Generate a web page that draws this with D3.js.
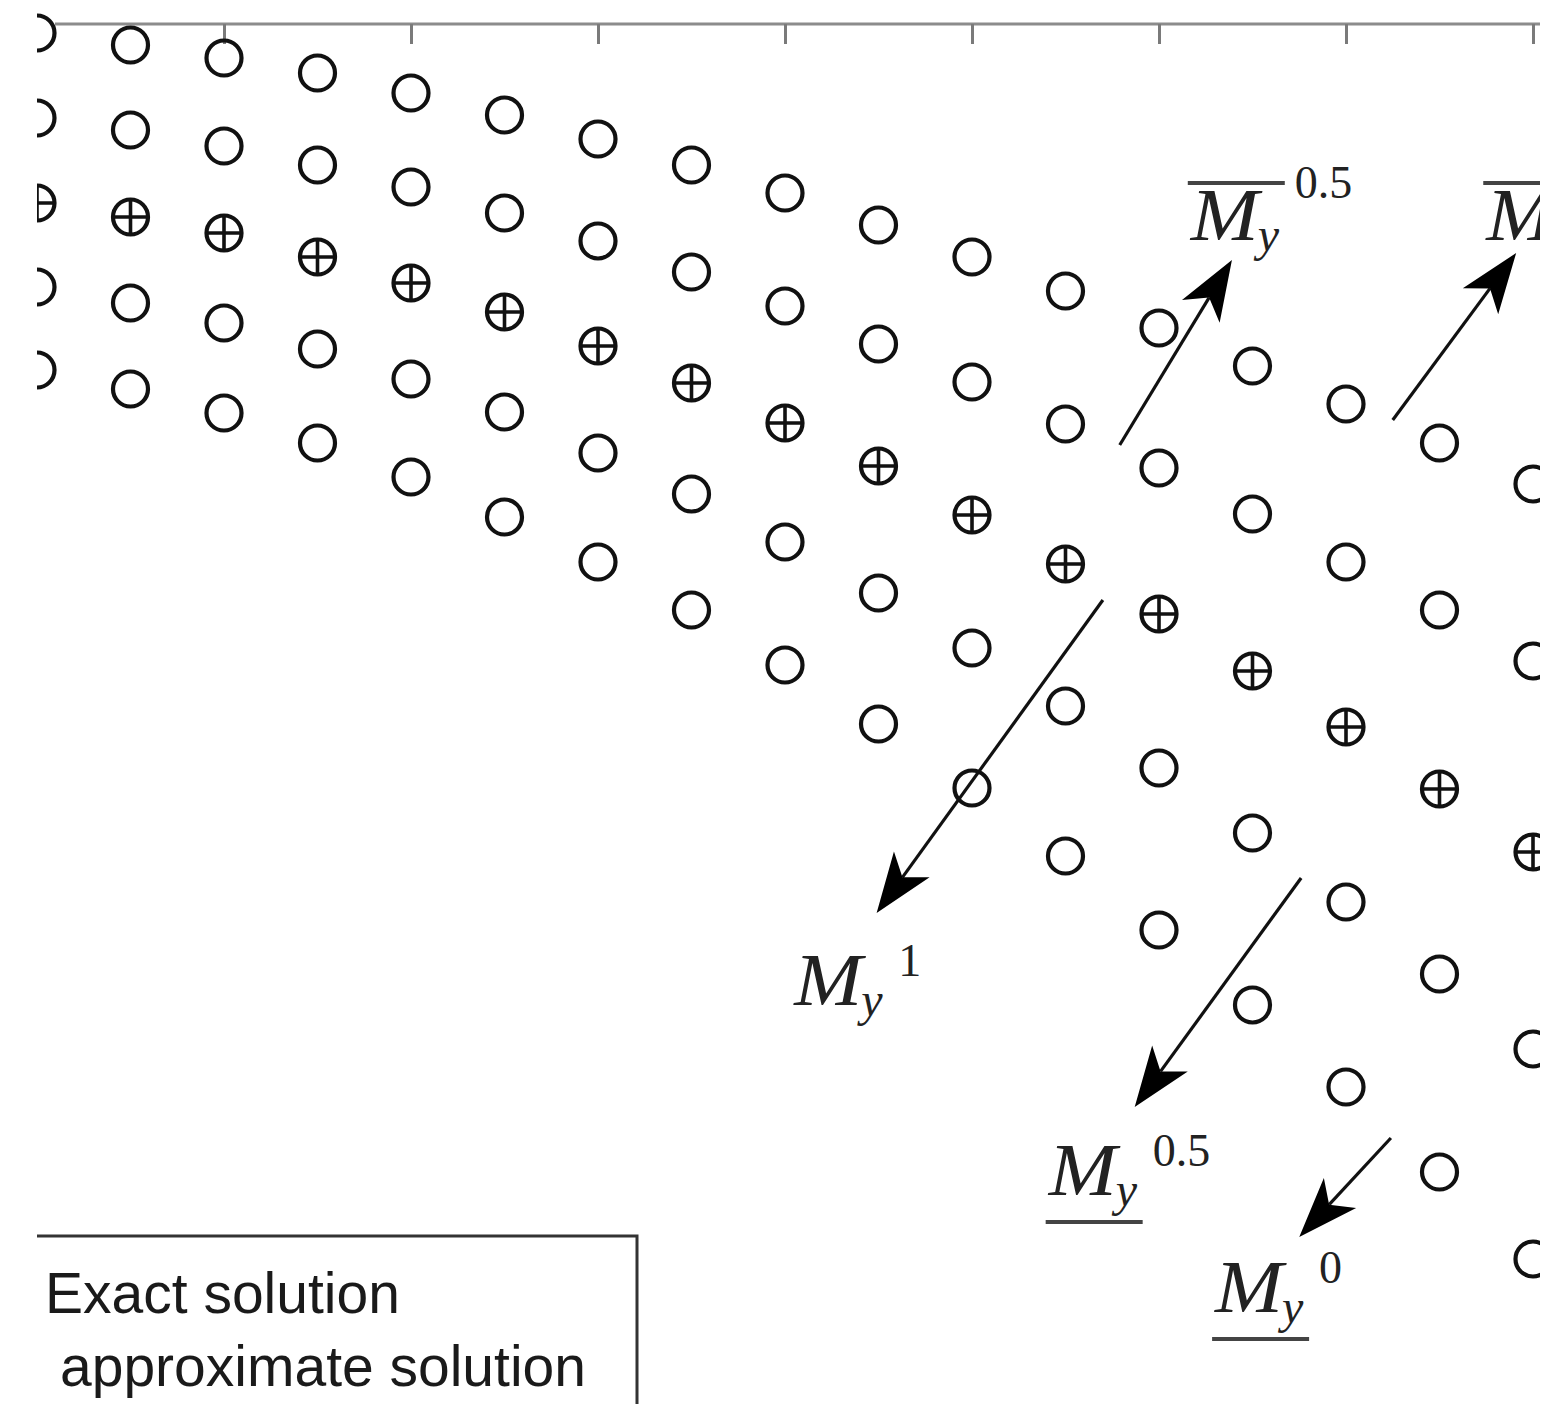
<!DOCTYPE html>
<html>
<head>
<meta charset="utf-8">
<script src="https://cdn.jsdelivr.net/npm/d3@7"></script>
<style>
  body { margin: 0; background: #fff; }
  svg { display: block; }
</style>
</head>
<body>
<svg id="chart" width="1545" height="1404"></svg>
<script>
// column positions
const xCols = [0, 0.5, 1, 1.5, 2, 2.5, 3, 3.5, 4, 4.5, 5, 5.5, 6, 6.5, 7, 7.5, 8];
const xTicks = [1, 2, 3, 4, 5, 6, 7, 8];

// five points per column, top to bottom
const rowTop    = [-0.10, -0.22, -0.35, -0.50, -0.70, -0.92, -1.16, -1.42, -1.70, -2.02, -2.34, -2.68, -3.05, -3.43, -3.81, -4.20, -4.61];
const rowSecond = [-0.95, -1.07, -1.23, -1.42, -1.64, -1.90, -2.18, -2.49, -2.83, -3.21, -3.59, -4.01, -4.45, -4.91, -5.39, -5.87, -6.38];
const exactRow  = [-1.80, -1.94, -2.10, -2.34, -2.60, -2.89, -3.23, -3.60, -4.00, -4.43, -4.92, -5.41, -5.91, -6.48, -7.04, -7.66, -8.29];
const rowFourth = [-2.64, -2.80, -3.00, -3.26, -3.56, -3.89, -4.30, -4.71, -5.19, -5.70, -6.25, -6.83, -7.45, -8.10, -8.79, -9.51, -10.26];
const rowBottom = [-3.47, -3.66, -3.90, -4.20, -4.54, -4.94, -5.39, -5.87, -6.42, -7.01, -7.65, -8.33, -9.07, -9.82, -10.64, -11.49, -12.36];

// annotation arrows (start -> tip)
const arrowFrom = [[5.79, -4.22], [7.25, -3.97], [5.70, -5.77], [6.76, -8.55], [7.24, -11.15]];
const arrowTo   = [[6.39, -2.37], [7.91, -2.30], [4.49, -8.90], [5.87, -10.84], [6.75, -12.14]];

// annotation labels  M_y^sup  with over/under bar
const labelAt  = [[6.17, -2.17], [7.75, -2.17], [4.05, -9.82], [5.41, -11.72], [6.30, -12.89]];
const labelSup = ["0.5", "0", "1", "0.5", "0"];
const labelBar = ["over", "over", "none", "under", "under"];

const legendItems = ["Exact solution", "approximate solution"];

const W = 1545, H = 1404;
const svg = d3.select("#chart");

const x = d3.scaleLinear().domain([0, 8]).range([37, 1533]);
const y = d3.scaleLinear().domain([0, -13.77]).range([23, 1400]);

svg.append("defs").append("clipPath").attr("id", "plot-clip")
  .append("rect").attr("x", 37).attr("y", 0).attr("width", 1503).attr("height", H);

const plot = svg.append("g").attr("clip-path", "url(#plot-clip)");

// top axis, ticks pointing inward
const axis = plot.append("g")
  .attr("transform", `translate(0,${y(0) + 1})`)
  .call(d3.axisTop(x).tickValues(xTicks).tickSize(-20).tickSizeOuter(0).tickFormat(""));
axis.select(".domain")
  .attr("d", `M${x(0.096)},0H${x(8.04)}`)
  .attr("stroke", "#8c8c8c").attr("stroke-width", 3.2);
axis.selectAll(".tick line").attr("stroke", "#7a7a7a").attr("stroke-width", 3);

// approximate solution: circles
const rows = [rowTop, rowSecond, exactRow, rowFourth, rowBottom];
const pts = [];
rows.forEach(r => r.forEach((v, i) => pts.push({ x: xCols[i], y: v })));

plot.append("g").selectAll("circle").data(pts).enter().append("circle")
  .attr("cx", d => x(d.x))
  .attr("cy", d => y(d.y))
  .attr("r", 17.5)
  .attr("fill", "none")
  .attr("stroke", "#111")
  .attr("stroke-width", 4.2);

// exact solution: plus markers
const plus = plot.append("g").selectAll("g").data(exactRow).enter().append("g")
  .attr("transform", (d, i) => `translate(${x(xCols[i])},${y(d)})`);
plus.append("line").attr("x1", -17).attr("x2", 17).attr("stroke", "#111").attr("stroke-width", 3.6);
plus.append("line").attr("y1", -17).attr("y2", 17).attr("stroke", "#111").attr("stroke-width", 3.6);

// arrows
function headPts(x1, y1, x2, y2) {
  const dx = x2 - x1, dy = y2 - y1, len = Math.hypot(dx, dy);
  const ux = dx / len, uy = dy / len, px = -uy, py = ux;
  const L = 60, HW = 22, N = 44;
  const p = (a, b) => [x2 - ux * a + px * b, y2 - uy * a + py * b];
  return { tip: [x2, y2], w1: p(L, HW), notch: p(N, 0), w2: p(L, -HW) };
}

arrowFrom.forEach((f, i) => {
  const x1 = x(f[0]), y1 = y(f[1]), x2 = x(arrowTo[i][0]), y2 = y(arrowTo[i][1]);
  const h = headPts(x1, y1, x2, y2);
  plot.append("line")
    .attr("x1", x1).attr("y1", y1).attr("x2", h.notch[0]).attr("y2", h.notch[1])
    .attr("stroke", "#111").attr("stroke-width", 3.2);
  plot.append("path")
    .attr("d", d3.line()([h.tip, h.w1, h.notch, h.w2]) + "Z")
    .attr("fill", "#000");
});

// labels
labelAt.forEach((a, i) => {
  const g = plot.append("g")
    .attr("transform", `translate(${x(a[0])},${y(a[1])})`)
    .attr("font-family", "'Liberation Serif', 'Times New Roman', serif")
    .attr("fill", "#222");
  g.append("text")
    .attr("font-style", "italic").attr("font-size", 74)
    .attr("textLength", 68).attr("lengthAdjust", "spacingAndGlyphs")
    .text("M");
  g.append("text")
    .attr("x", 67).attr("y", 11)
    .attr("font-style", "italic").attr("font-size", 48)
    .text("y");
  g.append("text")
    .attr("x", 104).attr("y", labelBar[i] === "over" ? -42 : -29)
    .attr("font-size", 46)
    .text(labelSup[i]);
  if (labelBar[i] !== "none") {
    const by = labelBar[i] === "over" ? -57 : 27;
    g.append("line")
      .attr("x1", -3).attr("x2", 94).attr("y1", by).attr("y2", by)
      .attr("stroke", "#444").attr("stroke-width", 4);
  }
});

// legend box (cut off at left and bottom)
const legend = svg.append("g");
legend.append("path")
  .attr("d", `M37,1236H637V${H + 5}`)
  .attr("fill", "none").attr("stroke", "#333").attr("stroke-width", 3);
legend.selectAll("text").data(legendItems).enter().append("text")
  .attr("x", (d, i) => i === 0 ? 45 : 60)
  .attr("y", (d, i) => 1313 + i * 73)
  .attr("font-family", "'Liberation Sans', Arial, sans-serif")
  .attr("font-size", 57)
  .attr("fill", "#1a1a1a")
  .text(d => d);
</script>
</body>
</html>
